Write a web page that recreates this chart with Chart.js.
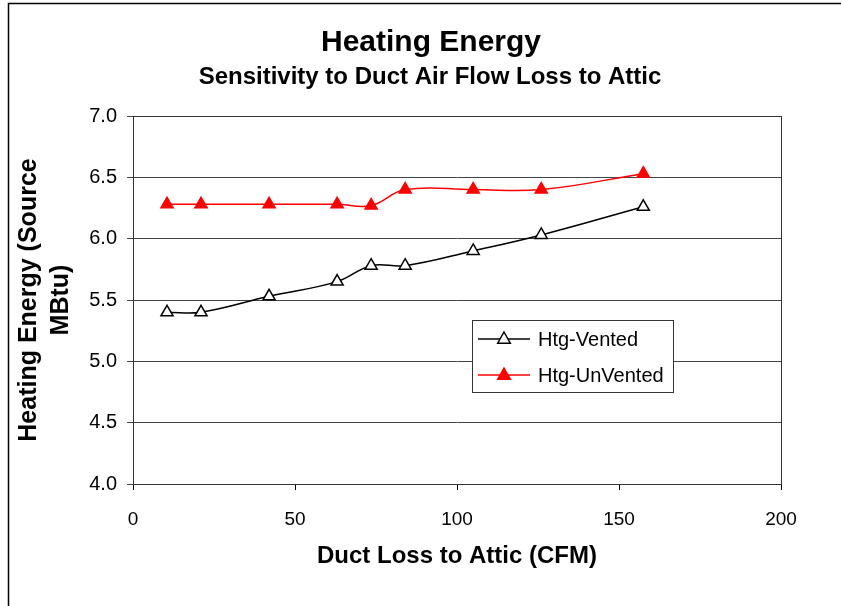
<!DOCTYPE html>
<html>
<head>
<meta charset="utf-8">
<script src="https://cdn.jsdelivr.net/npm/chart.js@4/dist/chart.umd.min.js"></script>
<style>
  html, body { margin: 0; padding: 0; background: #fff; }
  #wrap { width: 841px; height: 606px; }
</style>
</head>
<body>
<div id="wrap"><canvas id="heatingChart" width="841" height="606"></canvas></div>
<script>
// Duct loss to attic (CFM)
const ductLoss = [10.5, 21, 42, 63, 73.5, 84, 105, 126, 157.5];
// Heating energy (source MBtu)
const htgVented = [5.40, 5.40, 5.53, 5.65, 5.78, 5.78, 5.90, 6.03, 6.26];
const htgUnVented = [6.28, 6.28, 6.28, 6.28, 6.27, 6.40, 6.40, 6.40, 6.53];
const xTicks = [0, 50, 100, 150, 200];
const yTicks = [4.0, 4.5, 5.0, 5.5, 6.0, 6.5, 7.0];

const FONT = "'Liberation Sans', Arial, sans-serif";

function toPoints(xs, ys) {
  return xs.map((x, i) => ({ x: x, y: ys[i] }));
}

// Outer frame, titles, plot border and the boxed legend
const decorPlugin = {
  id: "decor",
  beforeDraw(chart) {
    const ctx = chart.ctx;
    ctx.save();
    ctx.fillStyle = "#fff";
    ctx.fillRect(0, 0, chart.width, chart.height);
    ctx.strokeStyle = "#000";
    ctx.lineWidth = 1.5;
    ctx.strokeRect(8.5, 3.5, chart.width + 20, chart.height + 20);
    ctx.restore();
  },
  afterDraw(chart) {
    const ctx = chart.ctx;
    const a = chart.chartArea;
    ctx.save();
    // plot area border
    ctx.strokeStyle = "#333";
    ctx.lineWidth = 1;
    ctx.strokeRect(Math.round(a.left) + 0.5, Math.round(a.top) + 0.5,
      Math.round(a.right - a.left), Math.round(a.bottom - a.top));

    // titles
    ctx.fillStyle = "#000";
    ctx.textAlign = "center";
    ctx.textBaseline = "middle";
    ctx.font = "bold 30px " + FONT;
    ctx.fillText("Heating Energy", 431, 43);
    ctx.font = "bold 24px " + FONT;
    ctx.fillText("Sensitivity to Duct Air Flow Loss to Attic", 430, 77);

    // legend box
    const lx = 472, ly = 320, lw = 201, lh = 72;
    ctx.fillStyle = "#fff";
    ctx.fillRect(lx, ly, lw, lh);
    ctx.strokeStyle = "#333";
    ctx.lineWidth = 1;
    ctx.strokeRect(lx + 0.5, ly + 0.5, lw, lh);
    ctx.textAlign = "left";
    ctx.font = "20px " + FONT;
    chart.data.datasets.forEach((ds, i) => {
      const y = ly + 19 + i * 36;
      ctx.strokeStyle = ds.borderColor;
      ctx.lineWidth = 1.5;
      ctx.beginPath();
      ctx.moveTo(lx + 6, y);
      ctx.lineTo(lx + 58, y);
      ctx.stroke();
      ctx.fillStyle = ds.pointBackgroundColor;
      ctx.strokeStyle = ds.pointBorderColor;
      ctx.lineWidth = ds.pointBorderWidth;
      ctx.beginPath();
      const r = ds.pointRadius;
      ctx.moveTo(lx + 32, y - r);
      ctx.lineTo(lx + 32 + r * 0.9, y + r * 0.6);
      ctx.lineTo(lx + 32 - r * 0.9, y + r * 0.6);
      ctx.closePath();
      ctx.fill();
      ctx.stroke();
      ctx.fillStyle = "#000";
      ctx.fillText(ds.label, lx + 66, y + 1);
    });
    ctx.restore();
  }
};

const ctx = document.getElementById("heatingChart").getContext("2d");
const heatingChart = new Chart(ctx, {
  type: "line",
  data: {
    datasets: [
      {
        label: "Htg-Vented",
        data: toPoints(ductLoss, htgVented),
        borderColor: "#000",
        borderWidth: 1.5,
        pointStyle: "triangle",
        pointRadius: 7,
        pointBackgroundColor: "#fff",
        pointBorderColor: "#000",
        pointBorderWidth: 1.5,
        tension: 0.4,
        fill: false,
      },
      {
        label: "Htg-UnVented",
        data: toPoints(ductLoss, htgUnVented),
        borderColor: "#ff0000",
        borderWidth: 1.5,
        pointStyle: "triangle",
        pointRadius: 7,
        pointBackgroundColor: "#ff0000",
        pointBorderColor: "#ff0000",
        pointBorderWidth: 1.5,
        tension: 0.4,
        fill: false,
      },
    ],
  },
  options: {
    responsive: false,
    animation: false,
    layout: { padding: { left: 0, right: 60, top: 116, bottom: 0 } },
    plugins: {
      legend: { display: false },
      title: { display: false },
      tooltip: { enabled: false },
    },
    scales: {
      x: {
        type: "linear",
        min: 0,
        max: 200,
        afterBuildTicks: (scale) => {
          scale.ticks = xTicks.map((v) => ({ value: v }));
        },
        afterFit: (scale) => {
          scale.height = 122;
        },
        grid: {
          drawOnChartArea: false,
          drawTicks: true,
          tickLength: 6,
          color: "#000",
        },
        border: { color: "#000" },
        ticks: {
          color: "#000",
          padding: 18,
          maxRotation: 0,
          font: { family: FONT, size: 19 },
        },
        title: {
          display: true,
          text: "Duct Loss to Attic (CFM)",
          color: "#000",
          font: { family: FONT, size: 24, weight: "bold", lineHeight: 1.2 },
          padding: { top: 0, bottom: 35 },
        },
      },
      y: {
        min: 4.0,
        max: 7.0,
        afterBuildTicks: (scale) => {
          scale.ticks = yTicks.map((v) => ({ value: v }));
        },
        afterFit: (scale) => {
          scale.width = 133;
        },
        grid: {
          color: "#444",
          drawTicks: true,
          tickLength: 6,
        },
        border: { color: "#000" },
        ticks: {
          color: "#000",
          padding: 10,
          font: { family: FONT, size: 20 },
          callback: (v) => Number(v).toFixed(1),
        },
        title: {
          display: true,
          text: ["Heating Energy (Source", "MBtu)"],
          color: "#000",
          font: { family: FONT, size: 25, weight: "bold", lineHeight: 1.28 },
          padding: { top: 13, bottom: 0 },
        },
      },
    },
  },
  plugins: [decorPlugin],
});
</script>
</body>
</html>
